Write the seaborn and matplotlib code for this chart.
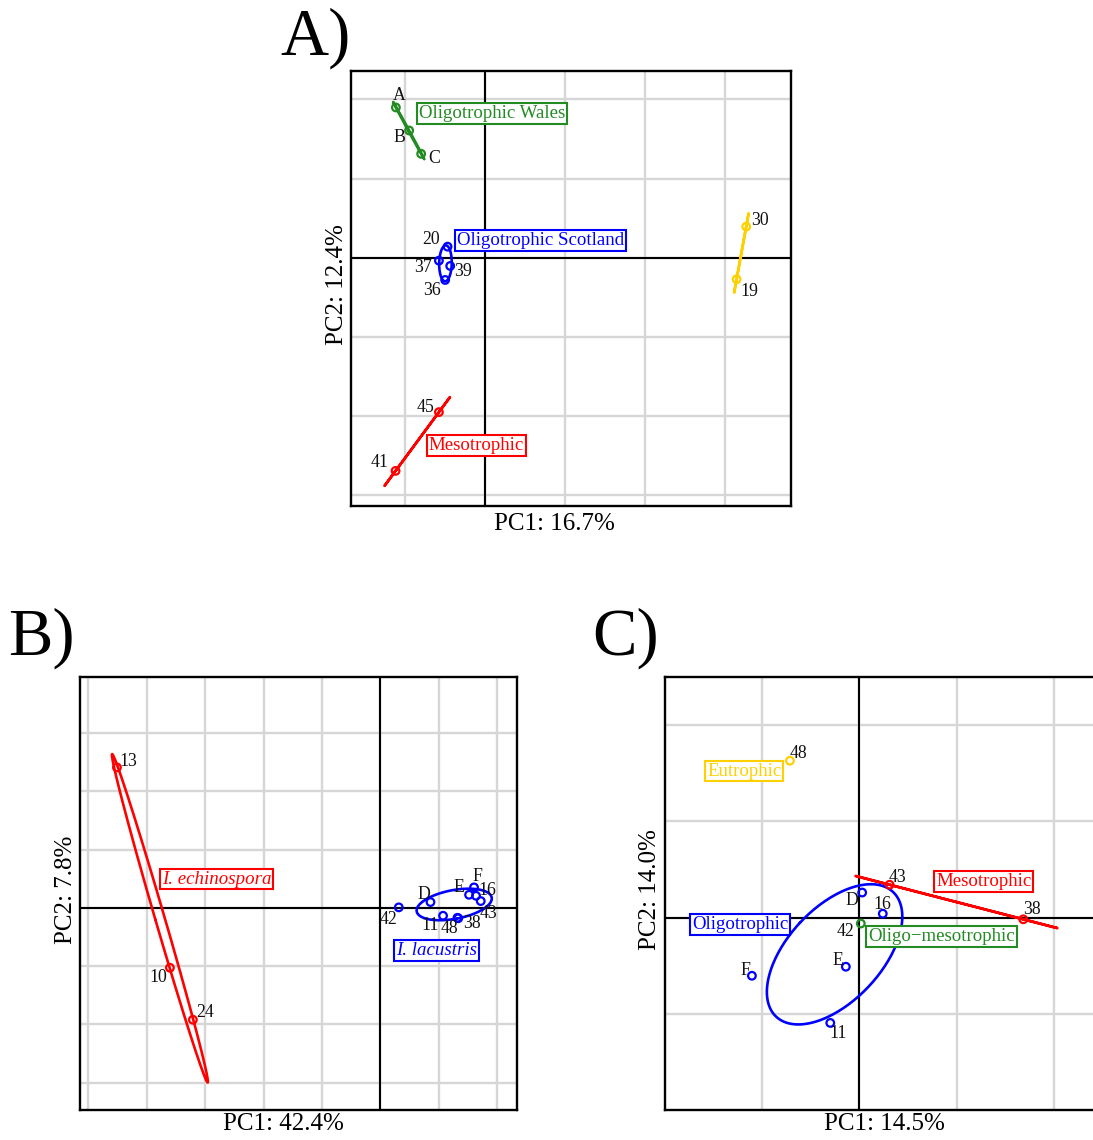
import numpy as np
import pandas as pd
import matplotlib
matplotlib.use("Agg")
import matplotlib.pyplot as plt
import seaborn as sns

# ---------------- data ----------------
# Panel A
a_site = ["A", "B", "C", "20", "37", "39", "36", "30", "19", "45", "41"]
a_pc1 = [-1.109, -0.943, -0.793, -0.463, -0.571, -0.430, -0.493, 3.270, 3.150, -0.571, -1.113]
a_pc2 = [1.899, 1.608, 1.313, 0.139, -0.038, -0.105, -0.282, 0.392, -0.273, -1.953, -2.696]
a_group = (["Oligotrophic Wales"] * 3 + ["Oligotrophic Scotland"] * 4
           + ["Eutrophic"] * 2 + ["Mesotrophic"] * 2)
a_xlab, a_ylab = "PC1: 16.7%", "PC2: 12.4%"

# Panel B
b_site = ["13", "10", "24", "42", "D", "11", "48", "38", "E", "F", "16", "43"]
b_pc1 = [-4.508, -3.602, -3.209, 0.313, 0.855, 1.070, 1.316, 1.330, 1.515, 1.600, 1.634, 1.715]
b_pc2 = [2.408, -1.029, -1.921, 0.007, 0.098, -0.137, -0.172, -0.180, 0.223, 0.350, 0.206, 0.115]
b_group = ["I. echinospora"] * 3 + ["I. lacustris"] * 9
b_xlab, b_ylab = "PC1: 42.4%", "PC2: 7.8%"

# Panel C
c_site = ["48", "43", "38", "D", "16", "E", "F", "11", "42"]
c_pc1 = [-0.715, 0.310, 1.685, 0.028, 0.240, -0.140, -1.106, -0.300, 0.014]
c_pc2 = [1.630, 0.341, -0.018, 0.260, 0.040, -0.511, -0.605, -1.095, -0.062]
c_group = (["Eutrophic"] + ["Mesotrophic"] * 2 + ["Oligotrophic"] * 5
           + ["Oligo\u2212mesotrophic"])
c_xlab, c_ylab = "PC1: 14.5%", "PC2: 14.0%"

# ---------------- styling ----------------
GREEN, BLUE, RED, GOLD = "#228B22", "#0000FF", "#FF0000", "#FFD000"
palette_a = {"Oligotrophic Wales": GREEN, "Oligotrophic Scotland": BLUE,
             "Eutrophic": GOLD, "Mesotrophic": RED}
palette_b = {"I. echinospora": RED, "I. lacustris": BLUE}
palette_c = {"Eutrophic": GOLD, "Mesotrophic": RED, "Oligotrophic": BLUE,
             "Oligo\u2212mesotrophic": GREEN}

# label offsets in pixels (dx right, dy down)
off_a = {"A": (3, -12), "B": (-10, 7), "C": (13, 5), "20": (-16, -7), "37": (-16, 7),
         "39": (13, 6), "36": (-13, 11), "30": (14, -6), "19": (13, 12),
         "45": (-13, -5), "41": (-16, -8)}
off_b = {"13": (11, -6), "10": (-12, 10), "24": (12, -7), "42": (-10, 12), "D": (-7, -8),
         "11": (-13, 10), "48": (-8, 11), "38": (14, 5), "E": (-10, -7), "F": (3, -11),
         "16": (11, -5), "43": (8, 12)}
off_c = {"48": (9, -7), "43": (8, -7), "38": (9, -10), "D": (-10, 8), "16": (0, -9),
         "42": (-15, 8), "E": (-8, -6), "F": (-6, -5), "11": (8, 11)}

# group label anchors (text left, centre y) in data units
glab_a = {"Oligotrophic Wales": (-0.821, 1.825), "Oligotrophic Scotland": (-0.346, 0.218),
          "Mesotrophic": (-0.696, -2.371)}
glab_b = {"I. echinospora": (-3.738, 0.492), "I. lacustris": (0.27, -0.734)}
glab_c = {"Eutrophic": (-1.565, 1.523), "Mesotrophic": (0.788, 0.373),
          "Oligotrophic": (-1.719, -0.0725), "Oligo\u2212mesotrophic": (0.089, -0.194)}

sns.set_theme(style="whitegrid")
plt.rcParams["font.family"] = ["Liberation Serif", "DejaVu Serif"]
plt.rcParams["mathtext.fontset"] = "dejavuserif"

W, H = 1093, 1140
fig = plt.figure(figsize=(W / 100, H / 100), dpi=100, facecolor="white")


def px_axes(x0, y0, x1, y1):
    return fig.add_axes([x0 / W, 1 - y1 / H, (x1 - x0) / W, (y1 - y0) / H])


def ellipse(x, y, prob=0.68, n=240):
    xy = np.column_stack([x, y])
    mu = xy.mean(axis=0)
    cov = np.cov(xy.T, bias=True)
    w, v = np.linalg.eigh(cov)
    w = np.clip(w, 0, None)
    r = np.sqrt(-2 * np.log(1 - prob))
    t = np.linspace(0, 2 * np.pi, n)
    circ = np.column_stack([np.cos(t), np.sin(t)])
    return (circ * np.sqrt(w) * r) @ v.T + mu


def panel(ax, site, pc1, pc2, group, pal, offs, glabs, xlim, ylim, xticks, yticks,
          xlab, ylab, xl_pos, yl_pos, italic=False):
    df = pd.DataFrame({"site": site, "PC1": pc1, "PC2": pc2, "group": group})
    ax.set_facecolor("white")
    ax.set_xlim(*xlim)
    ax.set_ylim(*ylim)
    ax.set_xticks(xticks)
    ax.set_yticks(yticks)
    ax.tick_params(length=0, labelbottom=False, labelleft=False)
    ax.grid(True, color="#d6d6d6", lw=1.7, zorder=0)
    ax.set_axisbelow(True)
    ax.axhline(0, color="black", lw=1.5, zorder=1)
    ax.axvline(0, color="black", lw=1.5, zorder=1)
    for s in ax.spines.values():
        s.set_color("black")
        s.set_linewidth(1.7)
        s.set_zorder(6)
    for g, sub in df.groupby("group", sort=False):
        if len(sub) >= 2:
            e = ellipse(sub["PC1"].values, sub["PC2"].values)
            sns.lineplot(x=e[:, 0], y=e[:, 1], sort=False, estimator=None,
                         color=pal[g], lw=1.9, ax=ax, zorder=2)
    sns.scatterplot(data=df, x="PC1", y="PC2", hue="group", palette=pal, s=30,
                    linewidth=1.6, legend=False, ax=ax, zorder=3)
    coll = ax.collections[-1]
    fc = coll.get_facecolors()
    coll.set_edgecolors(fc)
    coll.set_facecolors("none")
    for _, row in df.iterrows():
        dx, dy = offs[row["site"]]
        ax.annotate(row["site"], (row["PC1"], row["PC2"]), xytext=(dx, -dy),
                    textcoords="offset pixels", ha="center", va="center",
                    fontsize=12.8, color="#111111", zorder=4)
    for g, (gx, gy) in glabs.items():
        ax.text(gx, gy, g, ha="left", va="center", fontsize=13.6, color=pal[g],
                fontstyle="italic" if italic else "normal", zorder=5,
                bbox=dict(boxstyle="square,pad=0.1", fc="white", ec=pal[g], lw=1.5))
    ax.set_xlabel("")
    ax.set_ylabel("")
    ax.text(xl_pos[0], xl_pos[1], xlab, transform=ax.transAxes, ha="center",
            va="center", fontsize=18, color="black", clip_on=False)
    ax.text(yl_pos[0], yl_pos[1], ylab, transform=ax.transAxes, ha="center",
            va="center", rotation=90, fontsize=18, color="black", clip_on=False)


axA = px_axes(351, 71, 791, 506)
panel(axA, a_site, a_pc1, a_pc2, a_group, palette_a, off_a, glab_a,
      (-1.67, 3.83), (-3.14, 2.36), range(-1, 4), range(-3, 3),
      a_xlab, a_ylab, (0.4625, -0.041), (-0.032, 0.51))

axB = px_axes(80, 677, 517, 1110)
panel(axB, b_site, b_pc1, b_pc2, b_group, palette_b, off_b, glab_b,
      (-5.14, 2.335), (-3.47, 3.96), range(-5, 3), range(-3, 4),
      b_xlab, b_ylab, (0.465, -0.032), (-0.032, 0.508), italic=True)

axC = px_axes(665, 677, 1102.5, 1110)
panel(axC, c_site, c_pc1, c_pc2, c_group, palette_c, off_c, glab_c,
      (-2.0, 2.5), (-2.0, 2.5), range(-1, 3), range(-1, 3),
      c_xlab, c_ylab, (0.502, -0.032), (-0.034, 0.508))

fig.text(280 / W, 1 - 55 / H, "A)", fontsize=48, ha="left", va="baseline", color="black")
fig.text(8 / W, 1 - 655 / H, "B)", fontsize=48, ha="left", va="baseline", color="black")
fig.text(592 / W, 1 - 655 / H, "C)", fontsize=48, ha="left", va="baseline", color="black")

fig.savefig("out.png", dpi=100, facecolor="white")
